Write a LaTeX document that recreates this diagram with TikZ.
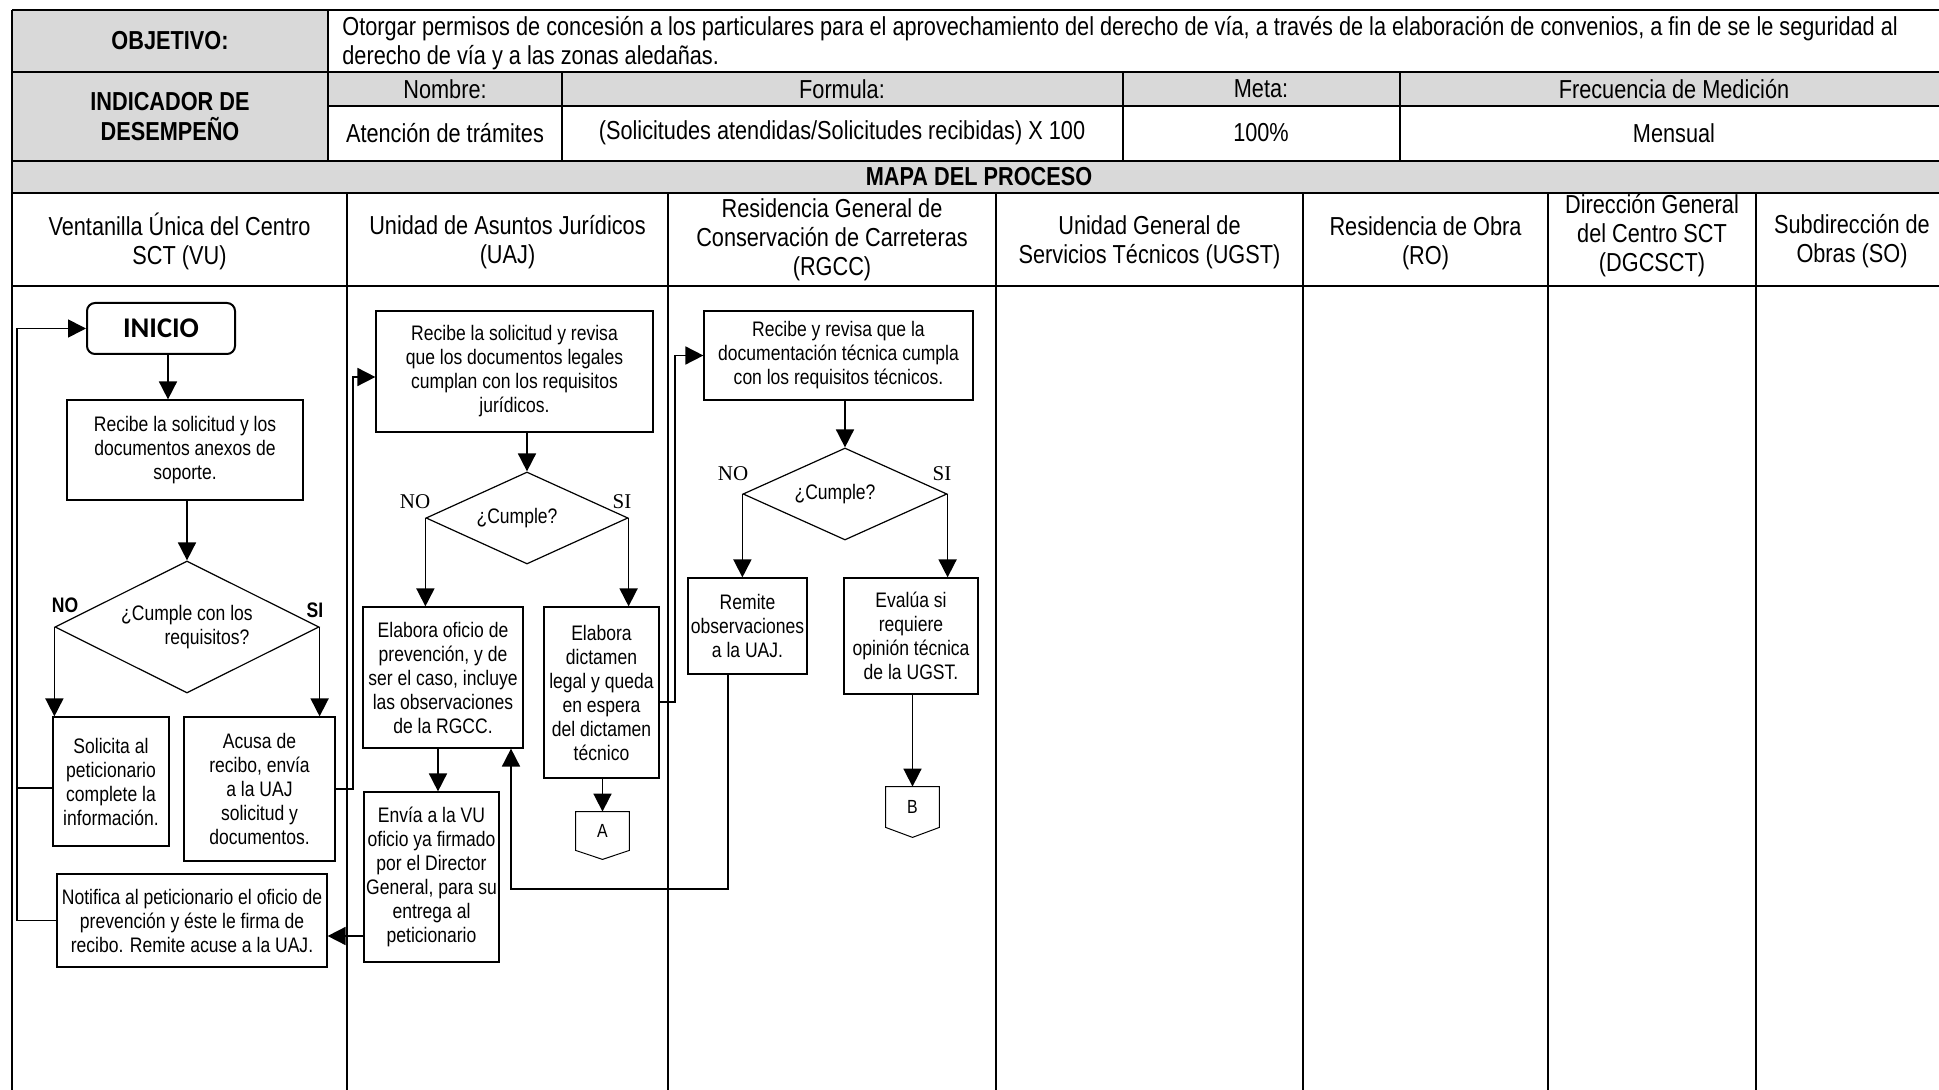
\documentclass[tikz,border=0pt]{standalone}
\usepackage{fontspec}
\setmainfont{Liberation Sans}
\newfontfamily\narfam[FakeStretch=0.835]{Liberation Sans}
\newfontfamily\tmsfam{Liberation Serif}
\newfontfamily\clbfam{Carlito}
\usetikzlibrary{arrows.meta,shapes.geometric,calc}
\definecolor{hgrey}{HTML}{D9D9D9}
\newcommand\bxfont{\narfam\fontsize{10.5}{12}\selectfont}
\newcommand\bxsmall{\narfam\fontsize{9.5}{11}\selectfont}
\newcommand\hdfont{\narfam\fontsize{13}{14.5}\selectfont}
\newcommand\tmsfont{\tmsfam\fontsize{10.5}{12}\selectfont}
\tikzset{
  tline/.style={line width=1.2pt},
  box/.style={draw, line width=0.6pt, align=center, inner sep=0pt, font=\bxfont},
  dec/.style={diamond, draw, line width=0.6pt, inner sep=0pt, align=center, font=\bxfont},
  arr/.style={line width=0.85pt, -{Triangle[length=9pt,width=9pt]}},
  conn/.style={line width=0.85pt},
  hdrtxt/.style={font=\hdfont, align=center, inner sep=0pt},
  hdrbold/.style={font=\hdfont\bfseries, align=center, inner sep=0pt},
  offpage/.style={inner sep=0pt, minimum width=26.5pt, font=\bxsmall},
  lbl/.style={inner sep=0pt, font=\tmsfont},
  lblb/.style={inner sep=0pt, font=\bxfont\bfseries},
}
\begin{document}
\begin{tikzpicture}[x=0.5pt,y=-0.5pt]
\useasboundingbox (0,0) rectangle (1939,1090);
\clip (0,0) rectangle (1939,1090);
\fill[white] (0,0) rectangle (1939,1090);
% ---------- table ----------
\fill[hgrey] (12,10) rectangle (328,161);
\fill[hgrey] (328,72) rectangle (1948,106);
\fill[hgrey] (12,161) rectangle (1948,193);
\draw[tline] (12,10) -- (1948,10);
\draw[tline] (12,72) -- (1948,72);
\draw[tline] (328,106) -- (1948,106);
\draw[tline] (12,161) -- (1948,161);
\draw[tline] (12,193) -- (1948,193);
\draw[tline] (12,286) -- (1948,286);
\draw[tline] (12,10) -- (12,1092);
\draw[tline] (328,10) -- (328,161);
\draw[tline] (562,72) -- (562,161);
\draw[tline] (1123,72) -- (1123,161);
\draw[tline] (1400,72) -- (1400,161);
\foreach \lx in {347,668,996,1303,1548,1756}{\draw[tline] (\lx,193) -- (\lx,1092);}
% ---------- header texts ----------
\node[hdrbold] (objl) at (170,41) {OBJETIVO:};
\node[hdrtxt, anchor=west, align=left] (objt) at (342,43) {Otorgar permisos de concesión a los particulares para el aprovechamiento del derecho de vía, a través de la elaboración de convenios, a fin de se le seguridad al\\derecho de vía y a las zonas aledañas.};
\node[hdrbold, font=\narfam\bfseries\fontsize{13}{15}\selectfont] (indl) at (170,117) {INDICADOR DE\\DESEMPEÑO};
\node[hdrtxt] (hnom) at (445,89) {Nombre:};
\node[hdrtxt] (hfor) at (842,89) {Formula:};
\node[hdrtxt] (hmet) at (1261,89) {Meta:};
\node[hdrtxt] (hfre) at (1674,89) {Frecuencia de Medición};
\node[hdrtxt] (vnom) at (445,133) {Atención de trámites};
\node[hdrtxt] (vfor) at (842,133) {(Solicitudes atendidas/Solicitudes recibidas) X 100};
\node[hdrtxt] (vmet) at (1261,133) {100\%};
\node[hdrtxt] (vfre) at (1674,133) {Mensual};
\node[hdrbold] (mapa) at (979,177) {MAPA DEL PROCESO};
\node[hdrtxt] (lvu) at (179.5,241) {Ventanilla Única del Centro\\SCT (VU)};
\node[hdrtxt] (luaj) at (507.5,242) {Unidad de Asuntos Jurídicos\\(UAJ)};
\node[hdrtxt] (lrg) at (832,240) {Residencia General de\\Conservación de Carreteras\\(RGCC)};
\node[hdrtxt] (lugst) at (1149.5,242) {Unidad General de\\Servicios Técnicos (UGST)};
\node[hdrtxt] (lro) at (1425.5,243) {Residencia de Obra\\(RO)};
\node[hdrtxt] (ldg) at (1652,236) {Dirección General\\del Centro SCT\\(DGCSCT)};
\node[hdrtxt] (lso) at (1852,241) {Subdirección de\\Obras (SO)};
% ---------- VU lane ----------
\node[draw, rounded corners=4pt, line width=1pt, minimum width=74pt, minimum height=25.5pt, inner sep=0pt, font=\clbfam\bfseries\fontsize{14.25}{16}\selectfont] (inicio) at (161,328.5) {INICIO};
\node[box, minimum width=118pt, minimum height=50pt] (recvu) at (185,450) {Recibe la solicitud y los\\documentos anexos de\\soporte.};
\node[dec, aspect=2, minimum width=132pt, minimum height=66pt] (d1) at (187,627) {¿Cumple con los\\\hspace*{20pt}requisitos?};
\node[lblb] (no1) at (65,605) {NO};
\node[lblb] (si1) at (315,610) {SI};
\node[box, minimum width=58pt, minimum height=64.5pt] (solicita) at (111,781.5) {Solicita al\\peticionario\\complete la\\información.};
\node[box, minimum width=75.5pt, minimum height=72pt] (acusa) at (259.5,789) {Acusa de\\recibo, envía\\a la UAJ\\solicitud y\\documentos.};
\node[box, minimum width=135pt, minimum height=46.5pt] (notifica) at (192,920.5) {Notifica al peticionario el oficio de\\prevención y éste le firma de\\recibo. Remite acuse a la UAJ.};
% ---------- UAJ lane ----------
\node[box, minimum width=138.5pt, minimum height=60.5pt] (recuaj) at (514.5,371.5) {Recibe la solicitud y revisa\\que los documentos legales\\cumplan con los requisitos\\jurídicos.};
\node[dec, aspect=2.2, minimum width=101pt, minimum height=46pt] (d2) at (527,518) {¿Cumple?\hspace*{10pt}};
\node[lbl] (no2) at (415,502) {NO};
\node[lbl] (si2) at (622,502) {SI};
\node[box, minimum width=80pt, minimum height=70.5pt] (oficio) at (443,677.5) {Elabora oficio de\\prevención, y de\\ser el caso, incluye\\las observaciones\\de la RGCC.};
\node[box, minimum width=57.5pt, minimum height=85.5pt] (dictamen) at (601.5,692.5) {Elabora\\dictamen\\legal y queda\\en espera\\del dictamen\\técnico};
\node[box, minimum width=67.5pt, minimum height=85pt] (envia) at (431.5,877) {Envía a la VU\\oficio ya firmado\\por el Director\\General, para su\\entrega al\\peticionario};
\node[offpage, minimum height=19pt] (A) at (602.5,831) {A};
\draw[line width=0.5pt] (A.north west) -- (A.north east) -- (A.south east) -- ([yshift=-4.5pt]A.south) -- (A.south west) -- cycle;
% ---------- RGCC lane ----------
\node[box, minimum width=134.5pt, minimum height=44.5pt] (recrg) at (838.5,355.5) {Recibe y revisa que la\\documentación técnica cumpla\\con los requisitos técnicos.};
\node[dec, aspect=2.2, minimum width=102pt, minimum height=46pt] (d3) at (845,494) {¿Cumple?\hspace*{10pt}};
\node[lbl] (no3) at (733,474) {NO};
\node[lbl] (si3) at (942,474) {SI};
\node[box, minimum width=59.5pt, minimum height=48pt] (remite) at (747.5,626) {Remite\\observaciones\\a la UAJ.};
\node[box, minimum width=67pt, minimum height=58pt] (evalua) at (911,636) {Evalúa si\\requiere\\opinión técnica\\de la UGST.};
\node[offpage, minimum height=20pt] (B) at (912.5,807) {B};
\draw[line width=0.5pt] (B.north west) -- (B.north east) -- (B.south east) -- ([yshift=-5pt]B.south) -- (B.south west) -- cycle;
% ---------- helper coordinates ----------
\coordinate (lx) at (17,0);
\coordinate (jx1) at (353,0);
\coordinate (jx2) at (675,0);
\coordinate (ry) at (0,889);
% ---------- connectors ----------
\draw[arr] ([xshift=3.5pt]inicio.south) -- ([xshift=3.5pt]inicio.south |- recvu.north);
\draw[arr] (recvu.south -| d1.north) -- (d1.north);
\draw[arr] (d1.west) -- (d1.west |- solicita.north);
\draw[arr] (d1.east) -- (d1.east |- acusa.north);
\draw[arr] ([yshift=-3.25pt]solicita.west) -- ([yshift=-3.25pt]solicita.west -| lx) |- (inicio.west);
\draw[conn] (notifica.west) -| ([yshift=-3.25pt]solicita.west -| lx);
\draw[arr] (acusa.east) -- (acusa.east -| jx1) |- ([yshift=-2.75pt]recuaj.west);
\draw[arr] (recuaj.south -| d2.north) -- (d2.north);
\draw[arr] (d2.west) -- (d2.west |- oficio.north);
\draw[arr] (d2.east) -- (d2.east |- dictamen.north);
\draw[arr] ([xshift=-2.5pt]oficio.south) -- ([xshift=-2.5pt]oficio.south |- envia.north);
\draw[arr] ([yshift=-29.5pt]envia.west) -- ([yshift=-29.5pt]envia.west -| notifica.east);
\draw[arr] (dictamen.south -| A.north) -- (A.north);
\draw[arr] ([yshift=-4.75pt]dictamen.east) -- ([yshift=-4.75pt]dictamen.east -| jx2) |- (recrg.west);
\draw[arr] ([xshift=-9.75pt]remite.south) -- ([xshift=-9.75pt]remite.south |- ry) -| ([xshift=34pt]oficio.south);
\draw[arr] (recrg.south -| d3.north) -- (d3.north);
\draw[arr] (d3.west) -- (d3.west |- remite.north);
\draw[arr] (d3.east) -- (d3.east |- evalua.north);
\draw[arr] (evalua.south -| B.north) -- (B.north);
\end{tikzpicture}
\end{document}
